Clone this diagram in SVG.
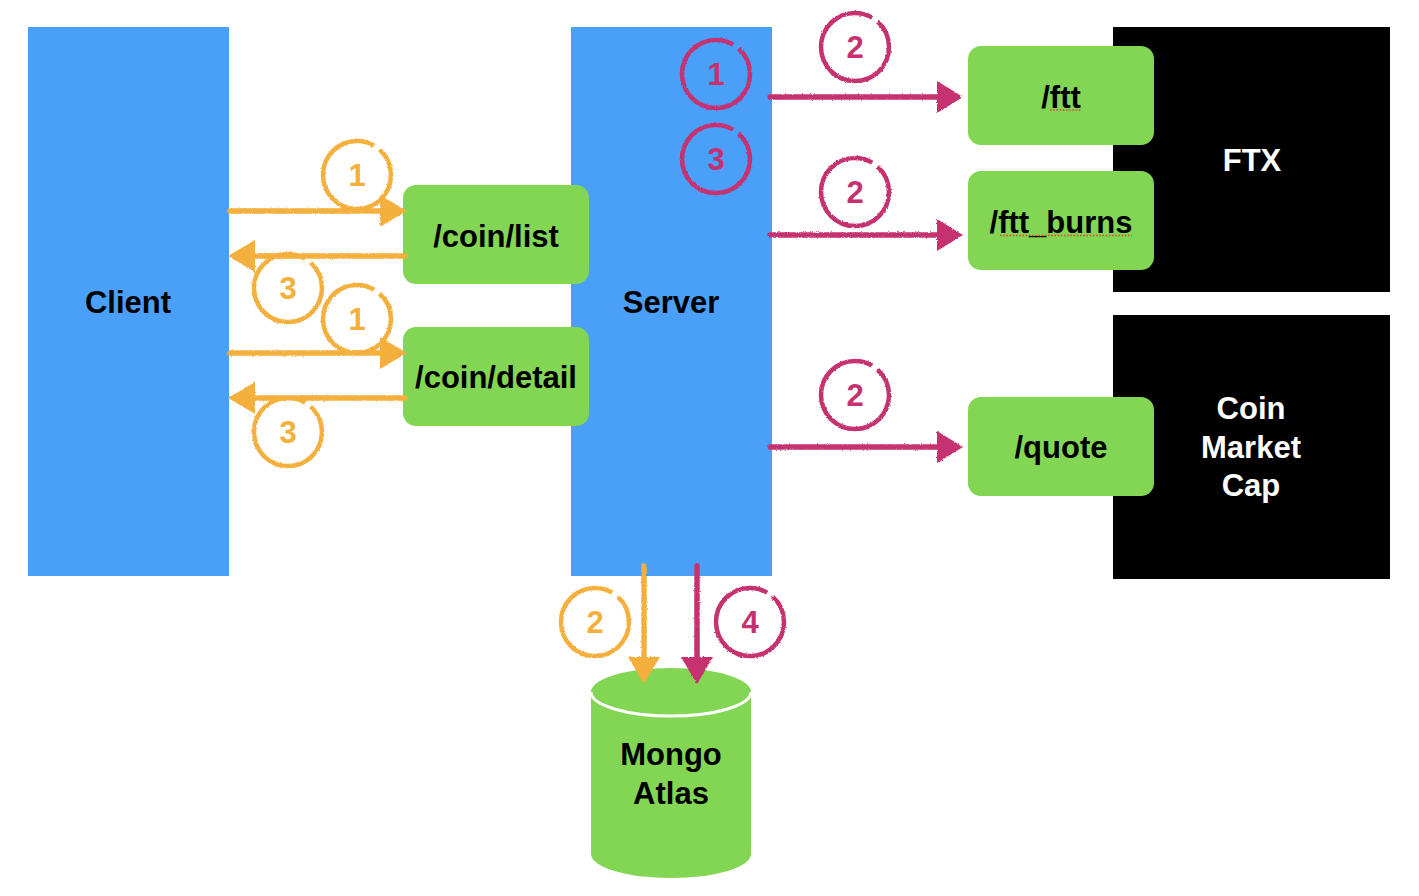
<svg xmlns="http://www.w3.org/2000/svg" width="1419" height="896" viewBox="0 0 1419 896">
<defs>
<style>
.lbl{font-family:"Liberation Sans",Arial,Helvetica,sans-serif;font-weight:bold;font-size:31px;text-anchor:middle;fill:#000}
.wl{fill:#fff}
.num{font-family:"Liberation Sans",Arial,Helvetica,sans-serif;font-weight:bold;font-size:31px;text-anchor:middle}
.blue{fill:#4A9FF8}
.green{fill:#82D653}
.blk{fill:#000}
.o{stroke:#F5AF3C;fill:none}
.p{stroke:#C6306F;fill:none}
.line{stroke-width:5.5;stroke-linecap:round}
.ring{stroke-width:4.5;stroke-dasharray:207 6.6;stroke-dashoffset:29}
.oh{fill:#F5AF3C}
.ph{fill:#C6306F}
.ot{fill:#F5AF3C}
.pt{fill:#C6306F}
.spell{stroke:#E0473A;stroke-width:1.6;stroke-dasharray:1.6 1.6;fill:none}
</style>
<filter id="rough" x="-10%" y="-10%" width="120%" height="120%">
<feTurbulence type="fractalNoise" baseFrequency="0.8" numOctaves="2" seed="3" result="n"/>
<feDisplacementMap in="SourceGraphic" in2="n" scale="2.5" xChannelSelector="R" yChannelSelector="G"/>
</filter>
</defs>
<rect width="1419" height="896" fill="#fff"/>

<g id="client">
<rect class="blue" x="28" y="27" width="201" height="549"/>
<text class="lbl" x="128" y="313">Client</text>
</g>

<g id="server">
<rect class="blue" x="571" y="27" width="201" height="549"/>
<text class="lbl" x="671" y="313">Server</text>
</g>

<g id="ftx">
<rect class="blk" x="1113" y="27" width="277" height="265"/>
<text class="lbl wl" x="1252" y="171">FTX</text>
</g>

<g id="cmc">
<rect class="blk" x="1113" y="315" width="277" height="264"/>
<text class="lbl wl" x="1251" y="419">Coin</text>
<text class="lbl wl" x="1251" y="458">Market</text>
<text class="lbl wl" x="1251" y="496">Cap</text>
</g>

<g id="coin-list">
<rect class="green" x="403" y="185" width="186" height="99" rx="13"/>
<text class="lbl" x="496" y="247">/coin/list</text>
</g>

<g id="coin-detail">
<rect class="green" x="403" y="327" width="186" height="99" rx="13"/>
<text class="lbl" x="496" y="388">/coin/detail</text>
</g>

<g id="ftt">
<rect class="green" x="968" y="46" width="186" height="99" rx="13"/>
<text class="lbl" x="1061" y="108">/ftt</text>
<path class="spell" d="M1050,110 H1082"/>
</g>

<g id="ftt-burns">
<rect class="green" x="968" y="171" width="186" height="99" rx="13"/>
<text class="lbl" x="1061" y="233">/ftt_burns</text>
<path class="spell" d="M1000,235.5 H1132"/>
</g>

<g id="quote">
<rect class="green" x="968" y="397" width="186" height="99" rx="13"/>
<text class="lbl" x="1061" y="458">/quote</text>
</g>

<g id="mongo">
<path class="green" d="M591,692 L591,854 A80,24 0 0 0 751,854 L751,692 A80,24 0 0 0 591,692 Z"/>
<path d="M591,692 A80,24 0 0 0 751,692" fill="none" stroke="#fff" stroke-width="3"/>
<text class="lbl" x="671" y="765">Mongo</text>
<text class="lbl" x="671" y="804">Atlas</text>
</g>

<g id="connectors">
<g filter="url(#rough)">
<path class="o line" d="M230,211 H385"/>
<path class="oh" d="M380,195 L407,211 L380,227 Z"/>
<path class="o line" d="M405,256 H250"/>
<path class="oh" d="M255,240 L228,256 L255,272 Z"/>
<path class="o line" d="M230,353 H385"/>
<path class="oh" d="M380,337 L407,353 L380,369 Z"/>
<path class="o line" d="M405,398 H250"/>
<path class="oh" d="M255,382 L228,398 L255,414 Z"/>
<path class="p line" d="M770,97 H942"/>
<path class="ph" d="M937,81 L963,97 L937,113 Z"/>
<path class="p line" d="M770,235 H942"/>
<path class="ph" d="M937,219 L963,235 L937,251 Z"/>
<path class="p line" d="M770,447 H942"/>
<path class="ph" d="M937,431 L963,447 L937,463 Z"/>
<path class="o line" d="M644,566 V662"/>
<path class="oh" d="M628,657 L644,684 L660,657 Z"/>
<path class="p line" d="M697,566 V662"/>
<path class="ph" d="M681,657 L697,684 L713,657 Z"/>
<circle class="o ring" cx="357" cy="175" r="34"/>
<circle class="o ring" cx="288" cy="288" r="34"/>
<circle class="o ring" cx="357" cy="319" r="34"/>
<circle class="o ring" cx="288" cy="432" r="34"/>
<circle class="o ring" cx="595" cy="622" r="34"/>
<circle class="p ring" cx="716" cy="74" r="34"/>
<circle class="p ring" cx="716" cy="159" r="34"/>
<circle class="p ring" cx="855" cy="47" r="34"/>
<circle class="p ring" cx="855" cy="192" r="34"/>
<circle class="p ring" cx="855" cy="395" r="34"/>
<circle class="p ring" cx="750" cy="622" r="34"/>
</g>
<text class="num ot" x="357" y="186">1</text>
<text class="num ot" x="288" y="299">3</text>
<text class="num ot" x="357" y="330">1</text>
<text class="num ot" x="288" y="443">3</text>
<text class="num ot" x="595" y="633">2</text>
<text class="num pt" x="716" y="85">1</text>
<text class="num pt" x="716" y="170">3</text>
<text class="num pt" x="855" y="58">2</text>
<text class="num pt" x="855" y="203">2</text>
<text class="num pt" x="855" y="406">2</text>
<text class="num pt" x="750" y="633">4</text>
</g>
</svg>
